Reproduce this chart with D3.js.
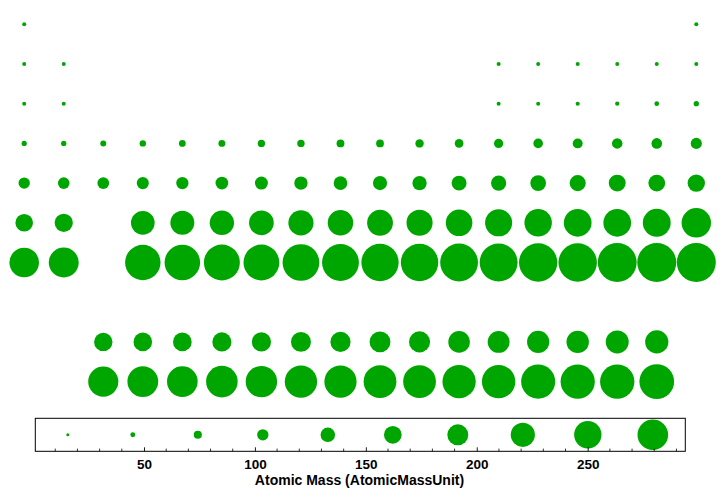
<!DOCTYPE html>
<html>
<head>
<meta charset="utf-8">
<script src="https://cdn.jsdelivr.net/npm/d3@7/dist/d3.min.js"></script>
<style>
  html, body { margin: 0; padding: 0; background: #fff; }
  svg { display: block; }
  text { font-family: "Liberation Sans", Arial, Helvetica, sans-serif; font-weight: bold; fill: #000; }
</style>
</head>
<body>
<svg id="chart" width="720" height="492"></svg>
<script>
// ---- data ----
const symbols = ["H","He","Li","Be","B","C","N","O","F","Ne","Na","Mg","Al","Si","P","S","Cl","Ar",
  "K","Ca","Sc","Ti","V","Cr","Mn","Fe","Co","Ni","Cu","Zn","Ga","Ge","As","Se","Br","Kr",
  "Rb","Sr","Y","Zr","Nb","Mo","Tc","Ru","Rh","Pd","Ag","Cd","In","Sn","Sb","Te","I","Xe",
  "Cs","Ba","La","Ce","Pr","Nd","Pm","Sm","Eu","Gd","Tb","Dy","Ho","Er","Tm","Yb","Lu",
  "Hf","Ta","W","Re","Os","Ir","Pt","Au","Hg","Tl","Pb","Bi","Po","At","Rn",
  "Fr","Ra","Ac","Th","Pa","U","Np","Pu","Am","Cm","Bk","Cf","Es","Fm","Md","No","Lr",
  "Rf","Db","Sg","Bh","Hs","Mt","Ds","Rg","Cn","Nh","Fl","Mc","Lv","Ts","Og"];
const masses = [1.008,4.0026,6.94,9.012,10.81,12.011,14.007,15.999,18.998,20.18,22.99,24.305,26.982,28.085,30.974,32.06,35.45,39.948,
  39.098,40.078,44.956,47.867,50.942,51.996,54.938,55.845,58.933,58.693,63.546,65.38,69.723,72.63,74.922,78.971,79.904,83.798,
  85.468,87.62,88.906,91.224,92.906,95.95,98,101.07,102.91,106.42,107.87,112.41,114.82,118.71,121.76,127.6,126.9,131.29,
  132.91,137.33,138.91,140.12,140.91,144.24,145,150.36,151.96,157.25,158.93,162.5,164.93,167.26,168.93,173.05,174.97,
  178.49,180.95,183.84,186.21,190.23,192.22,195.08,196.97,200.59,204.38,207.2,208.98,209,210,222,
  223,226,227,232.04,231.04,238.03,237,244,243,247,247,251,252,257,258,259,262,
  267,268,271,270,277,278,281,282,285,286,289,290,293,294,294];
// table column (group) and row (period; 9 = lanthanides, 10 = actinides)
const groups = [1,18,1,2,13,14,15,16,17,18,1,2,13,14,15,16,17,18,
  1,2,3,4,5,6,7,8,9,10,11,12,13,14,15,16,17,18,
  1,2,3,4,5,6,7,8,9,10,11,12,13,14,15,16,17,18,
  1,2,3,4,5,6,7,8,9,10,11,12,13,14,15,16,17,
  4,5,6,7,8,9,10,11,12,13,14,15,16,17,18,
  1,2,3,4,5,6,7,8,9,10,11,12,13,14,15,16,17,
  4,5,6,7,8,9,10,11,12,13,14,15,16,17,18];
const rows = [1,1,2,2,2,2,2,2,2,2,3,3,3,3,3,3,3,3,
  4,4,4,4,4,4,4,4,4,4,4,4,4,4,4,4,4,4,
  5,5,5,5,5,5,5,5,5,5,5,5,5,5,5,5,5,5,
  6,6,9,9,9,9,9,9,9,9,9,9,9,9,9,9,9,
  6,6,6,6,6,6,6,6,6,6,6,6,6,6,6,
  7,7,10,10,10,10,10,10,10,10,10,10,10,10,10,10,10,
  7,7,7,7,7,7,7,7,7,7,7,7,7,7,7];
const legendValues = [15.66,44.96,74.26,103.56,132.86,162.16,191.46,220.76,250.06,279.36];
const axisTicks = [50,100,150,200,250];
const axisTitle = "Atomic Mass (AtomicMassUnit)";

// ---- drawing ----
const green = "#00a600";
const svg = d3.select("#chart");

const x = d3.scaleLinear().domain([1, 18]).range([24.2, 696.3]);
const y = d3.scaleLinear().domain([1, 10]).range([24.3, 381.6]);
const rMain = d3.scaleLinear().domain([0, 294]).range([0, 19.5]);

const elements = symbols.map((s, i) => ({ s, m: masses[i], g: groups[i], p: rows[i] }));

svg.append("g").selectAll("circle").data(elements).join("circle")
  .attr("cx", d => x(d.g))
  .attr("cy", d => y(d.p))
  .attr("r", d => Math.max(2, rMain(d.m)))
  .attr("fill", green)
  .append("title").text(d => d.s + ": " + d.m);

// legend
const box = { x0: 35.3, x1: 685.3, y0: 418.3, y1: 451.3 };
const lx = d3.scaleLinear().domain([1.008, 294]).range([box.x0, box.x1]);
const rLeg = d3.scaleLinear().domain([0, 294]).range([0, 16.1]);

const lg = svg.append("g");
lg.append("rect")
  .attr("x", box.x0).attr("y", box.y0)
  .attr("width", box.x1 - box.x0).attr("height", box.y1 - box.y0)
  .attr("fill", "none").attr("stroke", "#000").attr("stroke-width", 1);

lg.selectAll("circle").data(legendValues).join("circle")
  .attr("cx", d => lx(d))
  .attr("cy", (box.y0 + box.y1) / 2)
  .attr("r", d => Math.max(1.5, rLeg(d)))
  .attr("fill", green);

// minor ticks every 10
const minor = d3.range(10, 294, 10).filter(v => v % 50 !== 0);
const axisG = svg.append("g").attr("transform", `translate(0,${box.y1})`);
axisG.selectAll("line.minor").data(minor).join("line")
  .attr("class", "minor")
  .attr("x1", d => lx(d)).attr("x2", d => lx(d))
  .attr("y1", 0).attr("y2", -2.7)
  .attr("stroke", "#000").attr("stroke-width", 0.8);

const axis = d3.axisBottom(lx).tickValues(axisTicks).tickSizeInner(-4).tickSizeOuter(0).tickPadding(8);
const ag = axisG.append("g").call(axis);
ag.select(".domain").remove();
ag.selectAll(".tick line").attr("stroke", "#000").attr("stroke-width", 0.9);
ag.selectAll(".tick text")
  .attr("font-size", 13.5)
  .attr("font-family", '"Liberation Sans", Arial, Helvetica, sans-serif')
  .attr("font-weight", "bold")
  .attr("fill", "#000");

svg.append("text")
  .attr("x", 359.5)
  .attr("y", 485)
  .attr("text-anchor", "middle")
  .attr("font-size", 14)
  .text(axisTitle);
</script>
</body>
</html>
